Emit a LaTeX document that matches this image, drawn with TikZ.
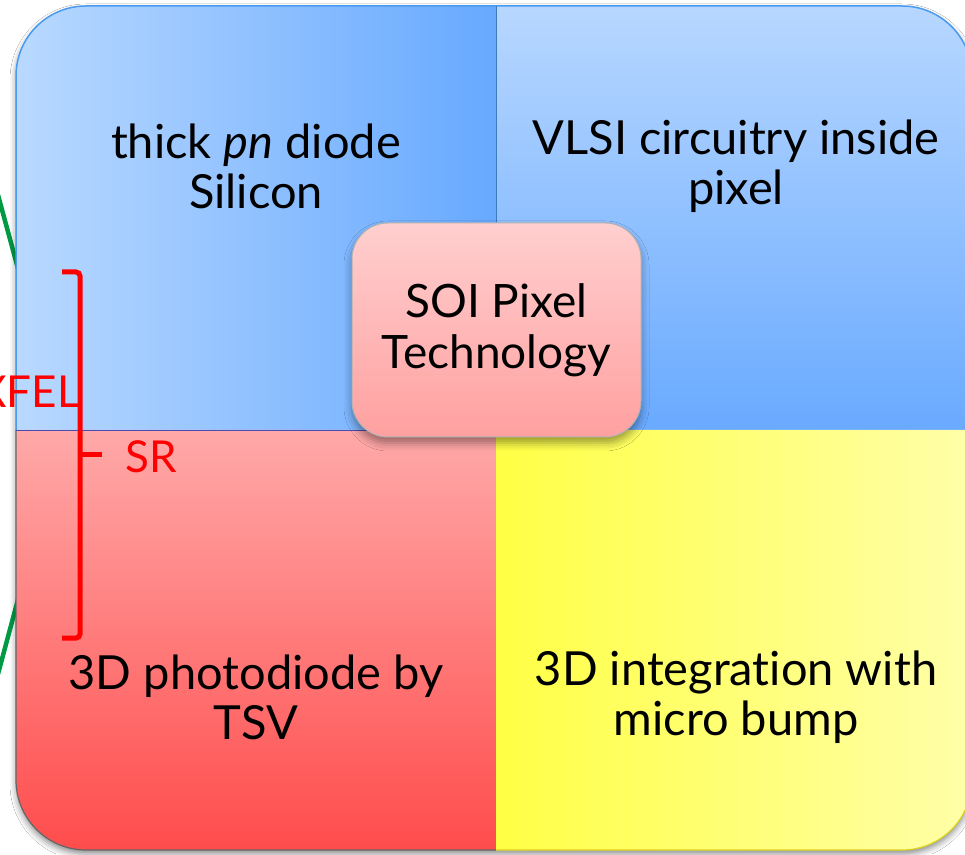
\documentclass[tikz,border=0pt]{standalone}
\usepackage{fontspec}
\setmainfont{Lato}[Ligatures=NoCommon]
\usetikzlibrary{shadows.blur}
\definecolor{tlL}{HTML}{B9D9FF}
\definecolor{tlR}{HTML}{67A9FF}
\definecolor{trT}{HTML}{B7D7FF}
\definecolor{trB}{HTML}{69AAFF}
\definecolor{blT}{HTML}{FFA9A9}
\definecolor{blB}{HTML}{FF4C4C}
\definecolor{brL}{HTML}{FFFF45}
\definecolor{brR}{HTML}{FFFFA8}
\definecolor{ctrT}{HTML}{FFCFCF}
\definecolor{ctrB}{HTML}{FFA0A0}
\definecolor{blueline}{HTML}{4A9BF0}
\definecolor{greenline}{HTML}{009A44}
\definecolor{brack}{HTML}{FF0000}
\tikzset{
  quadtext/.style={align=center, font=\fontsize{47}{50}\selectfont, text=black, inner sep=0pt},
  redtext/.style={font=\fontsize{44}{50}\selectfont, text=brack, inner sep=0pt},
  centerbox/.style={rounded corners=36pt, minimum width=289pt, minimum height=214pt,
    top color=ctrT, bottom color=ctrB, draw=gray!60, line width=1pt,
    align=center, font=\fontsize{46}{51}\selectfont,
    blur shadow={shadow xshift=0pt, shadow yshift=-6pt, shadow blur radius=8pt, shadow opacity=40}},
  bracketline/.style={draw=brack, line width=5pt, rounded corners=4pt},
  greenconn/.style={draw=greenline, line width=4.5pt}
}
\begin{document}
\begin{tikzpicture}[x=1pt,y=1pt]
\useasboundingbox (0,0) rectangle (965,854);
\clip (0,0) rectangle (965,854);
\fill[white] (0,0) rectangle (965,854);
% green connector fragments (behind)
\coordinate (g1a) at (-2,659);
\coordinate (g1b) at (20,578);
\coordinate (g2a) at (-2,180);
\coordinate (g2b) at (20,262);
\draw[greenconn] (g1a) -- (g1b);
\draw[greenconn] (g2a) -- (g2b);
% overall shadow
\path[blur shadow={shadow xshift=0pt, shadow yshift=-4pt, shadow blur radius=6pt, shadow opacity=45}]
  (16,424) -- (16,778) arc[start angle=180,end angle=90,radius=70] -- (902,848)
  arc[start angle=90,end angle=0,radius=70] -- (972,74) arc[start angle=0,end angle=-90,radius=70]
  -- (86,4) arc[start angle=270,end angle=180,radius=70] -- cycle;
% quadrants
\shade[left color=tlL, right color=tlR]
  (16,424) -- (16,778) arc[start angle=180,end angle=90,radius=70] -- (496,848) -- (496,424) -- cycle;
\shade[top color=trT, bottom color=trB]
  (496,424) -- (496,848) -- (902,848) arc[start angle=90,end angle=0,radius=70] -- (972,424) -- cycle;
\shade[top color=blT, bottom color=blB]
  (16,424) -- (16,74) arc[start angle=180,end angle=270,radius=70] -- (496,4) -- (496,424) -- cycle;
\shade[left color=brL, right color=brR]
  (496,424) -- (496,4) -- (902,4) arc[start angle=270,end angle=360,radius=70] -- (972,424) -- cycle;
% outlines
\draw[blueline, line width=1.5pt] (16,424) -- (16,778) arc[start angle=180,end angle=90,radius=70] -- (902,848) arc[start angle=90,end angle=0,radius=70] -- (972,424);
\draw[gray!80!black, line width=1.2pt] (16,424) -- (16,74) arc[start angle=180,end angle=270,radius=70] -- (496,4);
\draw[yellow!85!black, line width=1.2pt] (496,4) -- (902,4) arc[start angle=270,end angle=360,radius=70] -- (972,424);
\draw[gray!60!blue, line width=0.8pt] (16,424) -- (496,424);
\draw[blueline!80!black, line width=1pt] (496,424) -- (496,848);
% quadrant texts
\node[quadtext] (tl) at (256,688) {thick \textit{pn} diode\\Silicon};
\node[quadtext] (tr) at (736,688) {VLSI circuitry inside\\pixel};
\node[quadtext] (bl) at (256,157) {3D photodiode by\\TSV};
\node[quadtext] (br) at (736,157) {3D integration with\\micro bump};
% center node
\node[centerbox] (soi) at (496.5,524) {SOI Pixel\\Technology};
% red bracket
\coordinate (bt0) at (62,582);
\coordinate (bt1) at (80,582);
\coordinate (bb1) at (80,216);
\coordinate (bb0) at (62,216);
\coordinate (bm0) at (80,399);
\coordinate (bm1) at (102,399);
\draw[bracketline] (bt0) -- (bt1) -- (bb1) -- (bb0);
\draw[draw=brack, line width=5pt] (bm0) -- (bm1);
\node[redtext, anchor=base west] (sr) at (125,381) {SR};
\node[redtext, anchor=base east] (xfel) at (80,446) {XFEL};
\end{tikzpicture}
\end{document}
